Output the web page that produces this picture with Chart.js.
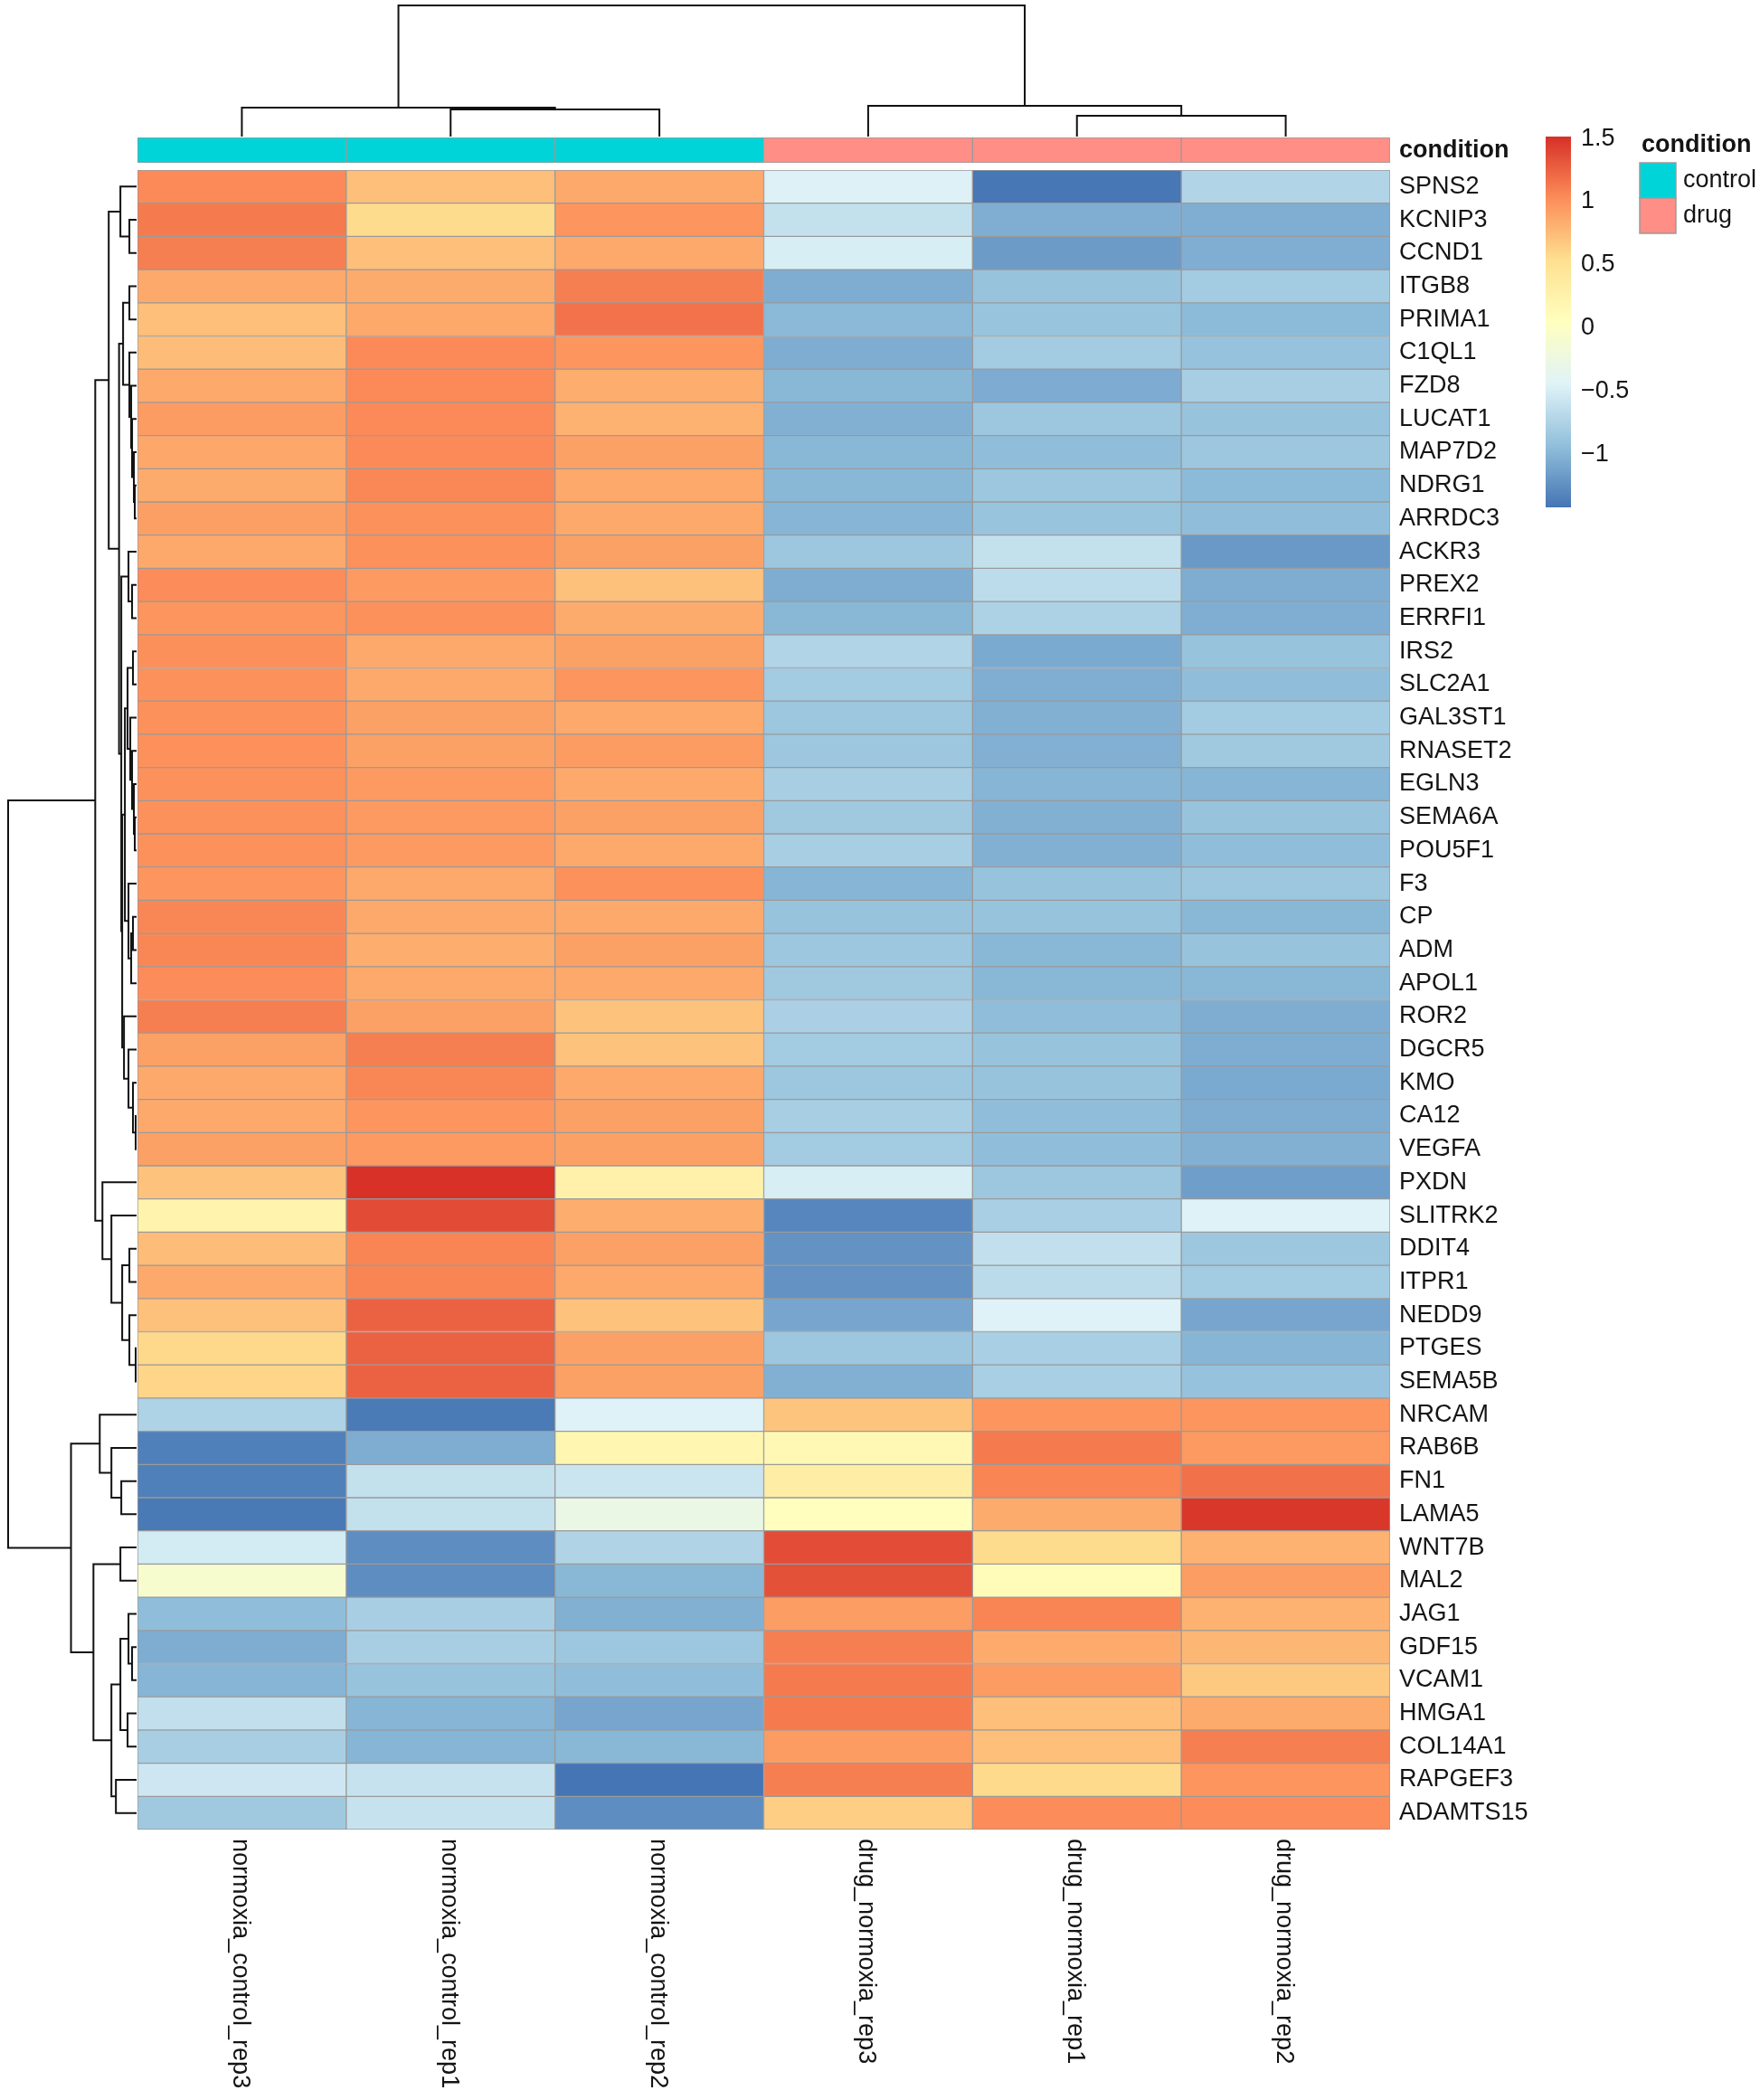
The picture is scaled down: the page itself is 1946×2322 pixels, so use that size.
<!DOCTYPE html>
<html>
<head>
<meta charset="utf-8">
<script src="https://cdn.jsdelivr.net/npm/chart.js@4.4.1/dist/chart.umd.min.js"></script>
<style>
  html,body{margin:0;padding:0;background:#fff;}
  #page{position:relative;width:1946px;height:2322px;overflow:hidden;background:#fff;}
  canvas{position:absolute;}
</style>
</head>
<body>
<div id="page">
  <canvas id="heat" width="1946" height="2322" style="left:0;top:0"></canvas>
  <canvas id="annot" width="1385" height="28" style="left:152px;top:152px"></canvas>
  <canvas id="coltree" width="1385" height="152" style="left:152px;top:0"></canvas>
  <canvas id="rowtree" width="152" height="1835" style="left:0;top:188px"></canvas>
  <canvas id="scalebar" width="240" height="440" style="left:1700px;top:140px"></canvas>
</div>
<script>
const samples = ['normoxia_control_rep3','normoxia_control_rep1','normoxia_control_rep2',
                 'drug_normoxia_rep3','drug_normoxia_rep1','drug_normoxia_rep2'];
const condition = ['control','control','control','drug','drug','drug'];
const conditionLevels = ['control','drug'];
const conditionColors = ['#00D4D8','#FF8E86'];

const genes = ['SPNS2','KCNIP3','CCND1','ITGB8','PRIMA1','C1QL1','FZD8','LUCAT1','MAP7D2','NDRG1',
  'ARRDC3','ACKR3','PREX2','ERRFI1','IRS2','SLC2A1','GAL3ST1','RNASET2','EGLN3','SEMA6A',
  'POU5F1','F3','CP','ADM','APOL1','ROR2','DGCR5','KMO','CA12','VEGFA',
  'PXDN','SLITRK2','DDIT4','ITPR1','NEDD9','PTGES','SEMA5B','NRCAM','RAB6B','FN1',
  'LAMA5','WNT7B','MAL2','JAG1','GDF15','VCAM1','HMGA1','COL14A1','RAPGEF3','ADAMTS15'];

// scaled expression, one array per sample (same order as genes)
const normoxia_control_rep3 = [1.04,1.12,1.10,0.86,0.73,0.74,0.86,0.94,0.87,0.85,
  0.92,0.86,1.03,0.98,1.01,1.00,1.00,1.00,1.00,1.00,
  1.00,0.98,1.06,1.06,1.03,1.10,0.91,0.86,0.86,0.91,
  0.71,0.24,0.74,0.86,0.72,0.58,0.60,-0.75,-1.35,-1.35,
  -1.39,-0.52,-0.08,-0.94,-1.05,-1.00,-0.63,-0.79,-0.56,-0.84];
const normoxia_control_rep1 = [0.73,0.56,0.73,0.85,0.86,1.04,1.04,1.04,1.04,1.05,
  1.00,1.00,0.95,1.00,0.86,0.86,0.91,0.91,0.95,0.95,
  0.95,0.86,0.86,0.84,0.86,0.91,1.10,1.06,0.98,0.95,
  1.51,1.37,1.07,1.07,1.25,1.25,1.25,-1.38,-1.05,-0.62,
  -0.62,-1.26,-1.26,-0.79,-0.79,-0.89,-1.00,-1.00,-0.60,-0.60];
const normoxia_control_rep2 = [0.86,0.98,0.86,1.10,1.16,0.98,0.84,0.81,0.91,0.86,
  0.86,0.91,0.72,0.85,0.91,0.98,0.86,0.94,0.86,0.91,
  0.86,1.00,0.86,0.91,0.86,0.71,0.71,0.86,0.91,0.91,
  0.27,0.84,0.91,0.86,0.71,0.91,0.91,-0.45,0.19,-0.57,
  -0.28,-0.74,-0.98,-1.03,-0.86,-0.94,-1.10,-0.98,-1.42,-1.26];
const drug_normoxia_rep3 = [-0.46,-0.62,-0.49,-1.05,-0.97,-1.05,-0.98,-1.03,-0.98,-0.98,
  -1.00,-0.86,-1.05,-0.98,-0.73,-0.82,-0.86,-0.86,-0.79,-0.84,
  -0.79,-1.00,-0.89,-0.86,-0.84,-0.77,-0.82,-0.86,-0.79,-0.82,
  -0.49,-1.31,-1.23,-1.23,-1.10,-0.86,-1.03,0.70,0.16,0.32,
  0.06,1.36,1.34,0.93,1.10,1.12,1.12,0.94,1.10,0.64];
const drug_normoxia_rep1 = [-1.41,-1.04,-1.17,-0.89,-0.88,-0.82,-1.06,-0.86,-0.94,-0.86,
  -0.88,-0.62,-0.66,-0.76,-1.07,-1.04,-1.03,-1.03,-1.00,-1.03,
  -1.03,-0.89,-0.89,-0.98,-0.98,-0.94,-0.89,-0.89,-0.94,-0.94,
  -0.86,-0.78,-0.63,-0.67,-0.45,-0.78,-0.78,0.98,1.12,1.07,
  0.85,0.56,0.11,1.07,0.85,0.94,0.73,0.73,0.57,1.03];
const drug_normoxia_rep2 = [-0.73,-1.04,-1.04,-0.82,-0.96,-0.90,-0.79,-0.89,-0.86,-0.96,
  -0.94,-1.18,-1.05,-1.04,-0.89,-0.94,-0.82,-0.84,-1.00,-0.89,
  -0.94,-0.86,-0.98,-0.89,-0.98,-1.05,-1.05,-1.07,-1.05,-1.03,
  -1.15,-0.45,-0.86,-0.82,-1.10,-1.00,-0.90,0.98,0.95,1.17,
  1.48,0.81,0.93,0.81,0.78,0.68,0.85,1.10,0.98,1.03];

const colorMin = -1.42, colorMax = 1.515;
const legendTicks = [-1, -0.5, 0, 0.5, 1, 1.5];
const palette = ['#4575B4','#91BFDB','#E0F3F8','#FFFFBF','#FEE090','#FC8D59','#D73027'];

// row clustering, hclust style: negative = leaf (display order), positive = earlier merge
const rowMerge = [[-2,-3],[-1,1],[-4,-5],[-10,-11],[-9,4],[-8,5],[-7,6],[-6,7],[3,8],[-13,-14],
  [-12,10],[-15,-16],[-20,-21],[-19,13],[-18,14],[-17,15],[12,16],[-23,-24],[18,-25],[-22,19],
  [17,20],[-29,-30],[-28,22],[-27,23],[-26,24],[21,25],[11,26],[9,27],[2,28],[-33,-34],
  [-36,-37],[-35,31],[30,32],[-32,33],[-31,34],[29,35],[-40,-41],[-39,37],[-38,38],[-42,-43],
  [-45,-46],[-44,41],[-47,-48],[42,43],[-49,-50],[44,45],[40,46],[39,47],[36,48]];
const rowHeight = [0.40,0.90,0.40,0.10,0.15,0.25,0.30,0.40,0.75,0.25,
  0.45,0.20,0.10,0.15,0.25,0.35,0.50,0.20,0.30,0.45,
  0.65,0.05,0.20,0.45,0.70,0.80,0.85,0.975,1.55,0.40,
  0.05,0.40,0.80,1.40,1.90,2.30,0.85,1.40,2.05,0.90,
  0.25,0.45,0.50,0.90,1.15,1.40,2.40,3.65,7.15];
const colMerge = [[-2,-3],[-1,1],[-5,-6],[-4,3],[2,4]];
const colHeight = [1.50,1.60,1.15,1.70,7.25];

const FONT = '"Liberation Sans", Arial, Helvetica, sans-serif';
const TXT = '#141414';
const GRID = '#9a9a9a';
Chart.defaults.font.family = FONT;

const sampleValues = [normoxia_control_rep3, normoxia_control_rep1, normoxia_control_rep2,
  drug_normoxia_rep3, drug_normoxia_rep1, drug_normoxia_rep2];

const hexRgb = h => { const n = parseInt(h.slice(1),16); return [n>>16&255, n>>8&255, n&255]; };
const palRgb = palette.map(hexRgb);
function heatColor(v){
  let t = (v - colorMin) / (colorMax - colorMin);
  t = Math.max(0, Math.min(1, t));
  const s = t * (palRgb.length - 1);
  const i = Math.min(Math.floor(s), palRgb.length - 2), f = s - i;
  const c = palRgb[i].map((x,k)=>Math.round(x + (palRgb[i+1][k] - x) * f));
  return 'rgb(' + c.join(',') + ')';
}

// U-shaped segments for each merge: [leafPos, height] pairs
function treeSegments(merge, height){
  const pos = [], segs = [];
  const at = k => k < 0 ? {p: -k - 0.5, h: 0} : {p: pos[k-1], h: height[k-1]};
  merge.forEach((m,i)=>{
    const a = at(m[0]), b = at(m[1]), h = height[i];
    pos.push((a.p + b.p) / 2);
    segs.push([[a.p,a.h],[a.p,h],[b.p,h],[b.p,b.h]]);
  });
  return segs;
}

const base = {
  responsive:false, animation:false, devicePixelRatio:1,
  events:[],
  plugins:{ legend:{display:false}, tooltip:{enabled:false} }
};
const lineSet = pts => ({ data:pts, showLine:true, borderColor:'#111', borderWidth:2,
  pointRadius:0, clip:false, borderJoinStyle:'miter' });

// heatmap cells
const heatLabels = {
  id:'heatLabels',
  afterDraw(chart){
    const {ctx, chartArea:a, scales:{x,y}} = chart;
    ctx.save();
    ctx.fillStyle = TXT;
    ctx.font = '27px ' + FONT;
    ctx.textAlign = 'left'; ctx.textBaseline = 'middle';
    genes.forEach((g,i)=> ctx.fillText(g, a.right + 10, y.getPixelForValue(i + 0.5)));
    samples.forEach((s,i)=>{
      ctx.save();
      ctx.translate(x.getPixelForValue(i) - 2, a.bottom + 10);
      ctx.rotate(Math.PI/2);
      ctx.fillText(s, 0, 0);
      ctx.restore();
    });
    // annotation row name
    ctx.font = 'bold 27px ' + FONT;
    ctx.fillText('condition', a.right + 10, 167);
    // condition legend
    ctx.fillText('condition', 1815, 161);
    ctx.font = '27px ' + FONT;
    conditionLevels.forEach((c,i)=>{
      ctx.fillStyle = conditionColors[i];
      ctx.fillRect(1813, 180 + i*39, 40, 39);
      ctx.strokeStyle = GRID; ctx.lineWidth = 1.5;
      ctx.strokeRect(1813, 180 + i*39, 40, 39);
      ctx.fillStyle = TXT;
      ctx.fillText(c, 1861, 200 + i*39);
    });
    ctx.restore();
  }
};

new Chart(document.getElementById('heat'), {
  type:'bar',
  data:{
    labels: samples,
    datasets: genes.map((g,i)=>({
      label:g,
      data: samples.map(()=>[i, i+1]),
      backgroundColor: sampleValues.map(col=>heatColor(col[i])),
      borderColor:GRID, borderWidth:1, borderSkipped:false,
      grouped:false, barPercentage:1, categoryPercentage:1
    }))
  },
  options:Object.assign({}, base, {
    layout:{ padding:{ left:152, top:188, right:409, bottom:299 } },
    scales:{
      x:{ type:'category', display:false },
      y:{ type:'linear', min:0, max:genes.length, reverse:true, display:false }
    }
  }),
  plugins:[heatLabels]
});

// annotation bar
new Chart(document.getElementById('annot'), {
  type:'bar',
  data:{
    labels: samples,
    datasets:[{
      data: samples.map(()=>[0,1]),
      backgroundColor: condition.map(c=>conditionColors[conditionLevels.indexOf(c)]),
      borderColor:GRID, borderWidth:1, borderSkipped:false,
      barPercentage:1, categoryPercentage:1
    }]
  },
  options:Object.assign({}, base, {
    layout:{ padding:0 },
    scales:{ x:{ display:false }, y:{ min:0, max:1, display:false } }
  })
});

// column dendrogram
new Chart(document.getElementById('coltree'), {
  type:'scatter',
  data:{ datasets: treeSegments(colMerge, colHeight).map(s=>lineSet(s.map(([p,h])=>({x:p, y:h})))) },
  options:Object.assign({}, base, {
    layout:{ padding:{ top:6, bottom:1, left:0, right:0 } },
    scales:{
      x:{ type:'linear', min:0, max:samples.length, display:false },
      y:{ type:'linear', min:0, max:Math.max(...colHeight), display:false }
    }
  })
});

// row dendrogram
new Chart(document.getElementById('rowtree'), {
  type:'scatter',
  data:{ datasets: treeSegments(rowMerge, rowHeight).map(s=>lineSet(s.map(([p,h])=>({x:h, y:p})))) },
  options:Object.assign({}, base, {
    layout:{ padding:{ top:0, bottom:0, left:9, right:1 } },
    scales:{
      x:{ type:'linear', min:0, max:Math.max(...rowHeight), reverse:true, display:false },
      y:{ type:'linear', min:0, max:genes.length, reverse:true, display:false }
    }
  })
});

// colour key
const keyLabels = {
  id:'keyLabels',
  afterDraw(chart){
    const {ctx, chartArea:a, scales:{y}} = chart;
    ctx.save();
    ctx.fillStyle = TXT; ctx.font = '27px ' + FONT;
    ctx.textAlign = 'left'; ctx.textBaseline = 'middle';
    legendTicks.forEach(v=>{
      const t = (v < 0 ? '\u2212' : '') + String(Math.abs(v));
      ctx.fillText(t, a.right + 11, y.getPixelForValue(v));
    });
    ctx.restore();
  }
};
new Chart(document.getElementById('scalebar'), {
  type:'bar',
  data:{
    labels:['key'],
    datasets:[{
      data:[[colorMin, colorMax]],
      backgroundColor(c){
        const ch = c.chart;
        if (!ch.chartArea) return palette[0];
        const y = ch.scales.y;
        const g = ch.ctx.createLinearGradient(0, y.getPixelForValue(colorMin), 0, y.getPixelForValue(colorMax));
        palette.forEach((col,i)=>g.addColorStop(i/(palette.length-1), col));
        return g;
      },
      borderWidth:0, barPercentage:1, categoryPercentage:1
    }]
  },
  options:Object.assign({}, base, {
    layout:{ padding:{ left:9, top:11, right:203, bottom:19 } },
    scales:{ x:{ display:false }, y:{ min:colorMin, max:colorMax, display:false } }
  }),
  plugins:[keyLabels]
});
</script>
</body>
</html>
